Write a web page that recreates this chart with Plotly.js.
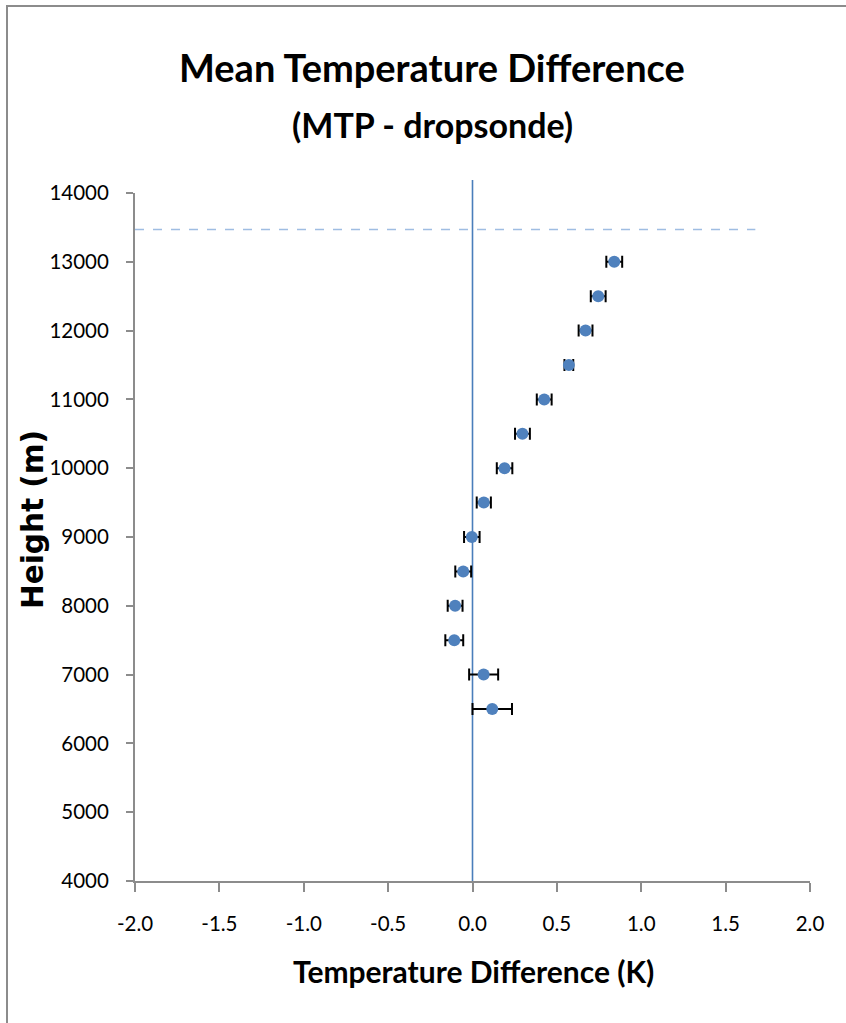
<!DOCTYPE html>
<html>
<head>
<meta charset="utf-8">
<script src="https://cdn.plot.ly/plotly-3.0.1.min.js"></script>
<style>
  html, body { margin: 0; padding: 0; background: #fff; }
  #wrap { position: relative; width: 846px; height: 1023px; }
  #chart { width: 846px; height: 1023px; }
  #frame { position: absolute; left: 6px; top: 5px; width: 900px; height: 1100px;
           border-left: 2px solid #8c8c8c; border-top: 2px solid #8c8c8c; pointer-events: none; }
</style>
</head>
<body>
<div id="wrap">
  <div id="chart"></div>
  <div id="frame"></div>
</div>
<script>
// ---- data ----
const heights  = [13000, 12500, 12000, 11500, 11000, 10500, 10000, 9500, 9000, 8500, 8000, 7500, 7000, 6500];
const tempDiff = [0.840, 0.745, 0.670, 0.571, 0.425, 0.296, 0.190, 0.067, -0.004, -0.055, -0.103, -0.108, 0.066, 0.117];
const tempErr  = [0.047, 0.044, 0.041, 0.026, 0.044, 0.044, 0.046, 0.042, 0.046, 0.047, 0.044, 0.053, 0.086, 0.117];
const refLineX = [-2.0, 1.676];
const refLineY = [13470, 13470];
const zeroLineX = 0;
const xTickVals = [-2.0, -1.5, -1.0, -0.5, 0.0, 0.5, 1.0, 1.5, 2.0];
const xTickText = ['-2.0', '-1.5', '-1.0', '-0.5', '0.0', '0.5', '1.0', '1.5', '2.0'];
const yTickVals = [4000, 5000, 6000, 7000, 8000, 9000, 10000, 11000, 12000, 13000, 14000];
const yTickText = ['4000', '5000', '6000', '7000', '8000', '9000', '10000', '11000', '12000', '13000', '14000'];

const titleMain = 'Mean Temperature Difference';
const titleSub  = '(MTP - dropsonde)';
const xTitle = 'Temperature Difference (K)';
const yTitle = 'Height (m)';

const traces = [
  {
    x: refLineX, y: refLineY, type: 'scatter', mode: 'lines',
    line: { color: '#9fbde2', width: 1.6, dash: 'dash' },
    hoverinfo: 'skip', showlegend: false
  },
  {
    x: tempDiff, y: heights, type: 'scatter', mode: 'markers',
    marker: { color: '#4f81bd', size: 12 },
    error_x: { type: 'data', array: tempErr, symmetric: true, color: '#000000', thickness: 2, width: 6 },
    showlegend: false
  }
];

const layout = {
  width: 846, height: 1023,
  margin: { l: 135, r: 36, t: 193, b: 142 },
  paper_bgcolor: '#ffffff', plot_bgcolor: '#ffffff',
  font: { family: 'Lato, "Open Sans", sans-serif', color: '#000000', size: 20.5 },
  showlegend: false,
  xaxis: {
    range: [-2, 2], tickvals: xTickVals, ticktext: xTickText,
    showgrid: false, zeroline: false,
    showline: true, linecolor: '#8c8c8c', linewidth: 2,
    ticks: 'outside', ticklen: 9, tickwidth: 2, tickcolor: '#8c8c8c',
    ticklabelstandoff: 14,
    tickfont: { size: 20.5, color: '#000' }
  },
  yaxis: {
    range: [4000, 14000], tickvals: yTickVals, ticktext: yTickText,
    showgrid: false, zeroline: false,
    showline: true, linecolor: '#8c8c8c', linewidth: 2,
    ticks: 'outside', ticklen: 7, tickwidth: 2, tickcolor: '#8c8c8c',
    ticklabelstandoff: 13,
    tickfont: { size: 20.5, color: '#000' }
  },
  shapes: [
    { type: 'line', xref: 'x', yref: 'paper', x0: zeroLineX, x1: zeroLineX, y0: 0, y1: 1.019,
      line: { color: '#4a7ebb', width: 1.6 }, layer: 'below' }
  ],
  annotations: [
    { text: titleMain, xref: 'paper', yref: 'paper', x: 0.4393, y: 1.1837, xanchor: 'center', yanchor: 'middle',
      showarrow: false, font: { family: 'Lato, sans-serif', size: 38, color: '#000', weight: 'bold' } },
    { text: titleSub, xref: 'paper', yref: 'paper', x: 0.4407, y: 1.0991, xanchor: 'center', yanchor: 'middle',
      showarrow: false, font: { family: 'Lato, sans-serif', size: 34, color: '#000', weight: 'bold' } },
    { text: xTitle, xref: 'paper', yref: 'paper', x: 0.5015, y: -0.1302, xanchor: 'center', yanchor: 'middle',
      showarrow: false, font: { family: 'Lato, sans-serif', size: 30, color: '#000', weight: 'bold' } },
    { text: yTitle, xref: 'paper', yref: 'paper', x: -0.1511, y: 0.5247, xanchor: 'center', yanchor: 'middle',
      textangle: -90, showarrow: false,
      font: { family: '"DejaVu Sans", sans-serif', size: 29.5, color: '#000', weight: 'bold' } }
  ]
};

Plotly.newPlot('chart', traces, layout, { displayModeBar: false, staticPlot: true });
</script>
</body>
</html>
